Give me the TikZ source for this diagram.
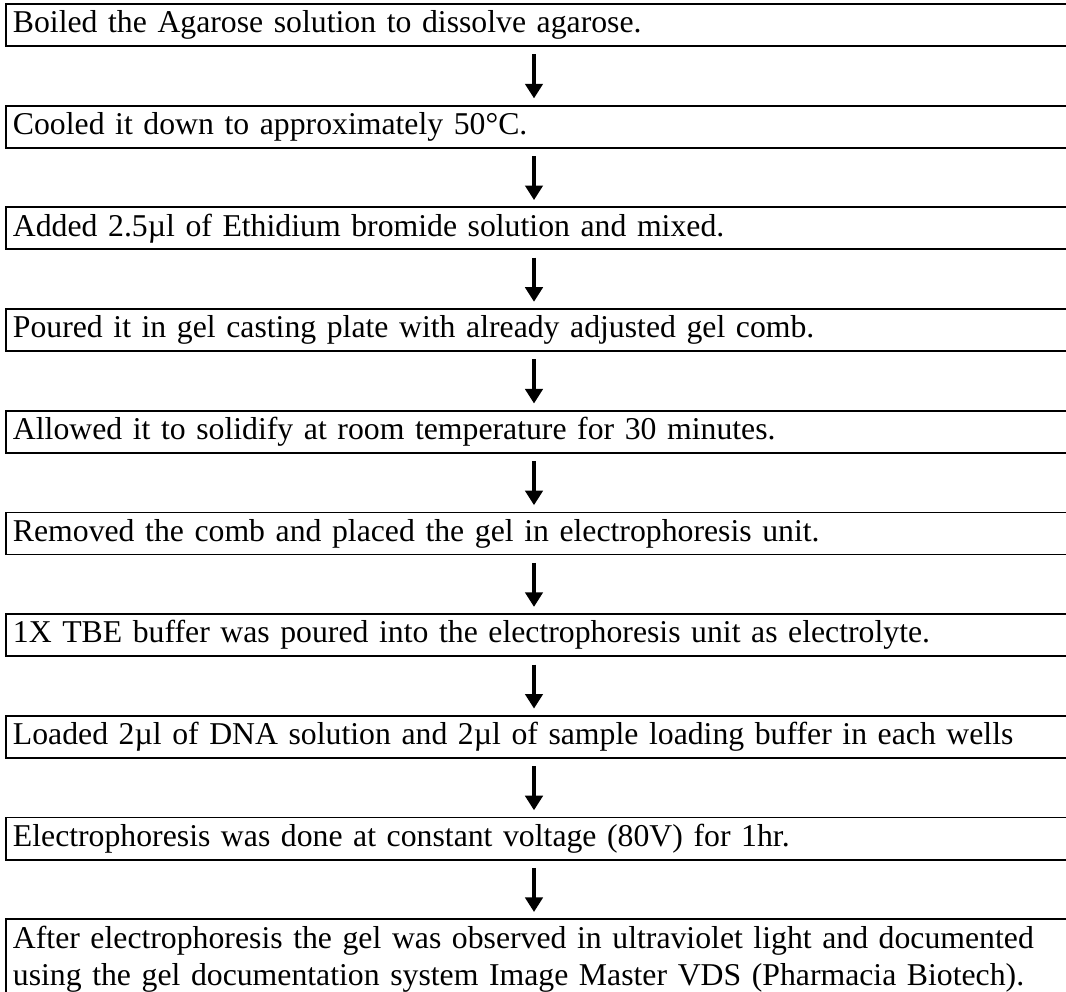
\documentclass[tikz,border=0pt]{standalone}
\usepackage{fontspec}
\setmainfont{Liberation Serif}
\usetikzlibrary{arrows.meta}
\begin{document}
\begin{tikzpicture}[x=0.378pt,y=-0.378pt,
  stepbox/.style={draw, line width=0.7pt, anchor=north west, inner xsep=2.65pt, inner ysep=0pt,
    minimum height=15.9pt, text width=401pt, align=left, font=\fontsize{12pt}{14pt}\selectfont},
  arr/.style={line width=1.2pt, -{Triangle[length=5.5pt,width=6.6pt]}, shorten <=2.8pt, shorten >=2.4pt}]
\useasboundingbox (0,0) rectangle (1066,992);
\clip (0,0) rectangle (1066,992);
\coordinate (ax) at (534,0);
\node[stepbox] (b1) at (5,3) {Boiled the Agarose solution to dissolve agarose.};
\node[stepbox] (b2) at (5,104.7) {Cooled it down to approximately 50°C.};
\node[stepbox] (b3) at (5,206.4) {Added 2.5µl of Ethidium bromide solution and mixed.};
\node[stepbox] (b4) at (5,308.1) {Poured it in gel casting plate with already adjusted gel comb.};
\node[stepbox] (b5) at (5,409.8) {Allowed it to solidify at room temperature for 30 minutes.};
\node[stepbox] (b6) at (5,511.5) {Removed the comb and placed the gel in electrophoresis unit.};
\node[stepbox] (b7) at (5,613.2) {1X TBE buffer was poured into the electrophoresis unit as electrolyte.};
\node[stepbox] (b8) at (5,714.9) {Loaded 2µl of DNA solution and 2µl of sample loading buffer in each wells};
\node[stepbox] (b9) at (5,816.6) {Electrophoresis was done at constant voltage (80V) for 1hr.};
\node[stepbox, inner ysep=2.5pt] (b10) at (5,918.3) {\parbox{396.1pt}{After electrophoresis the gel was observed in ultraviolet light and documented\linebreak using the gel documentation system Image Master VDS (Pharmacia Biotech).}};
\foreach \a/\b in {b1/b2,b2/b3,b3/b4,b4/b5,b5/b6,b6/b7,b7/b8,b8/b9,b9/b10}
  \draw[arr] (\a.south -| ax) -- (\b.north -| ax);
\end{tikzpicture}
\end{document}
